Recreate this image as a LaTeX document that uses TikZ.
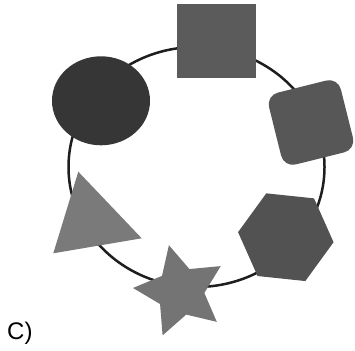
\documentclass[tikz,border=0pt]{standalone}
\usepackage{fontspec}
\setmainfont{Liberation Sans}
\usetikzlibrary{shapes.geometric}
\definecolor{ringc}{HTML}{1E1E1E}
\definecolor{circc}{HTML}{363636}
\definecolor{sqc}{HTML}{5B5B5B}
\definecolor{rsqc}{HTML}{575757}
\definecolor{hexc}{HTML}{525252}
\definecolor{tric}{HTML}{7A7A7A}
\definecolor{starc}{HTML}{747474}
\tikzset{
  ringline/.style={draw=ringc, line width=2.5pt},
  blob/.style={inner sep=0pt, outer sep=0pt, draw=none},
  lbl/.style={inner sep=0pt, font=\fontsize{24}{28}\selectfont}
}
\begin{document}
\begin{tikzpicture}[x=1pt,y=1pt]
\useasboundingbox (0,0) rectangle (355,350);
\fill[white] (0,0) rectangle (355,350);
% ring
\draw[ringline] (196.5,183) ellipse [x radius=128, y radius=120];
% shapes
\node[blob, ellipse, fill=circc, minimum width=98, minimum height=89] (circ) at (101,249.2) {};
\node[blob, rectangle, fill=sqc, minimum width=79, minimum height=74] (sq) at (216.3,308.8) {};
\node[blob, rectangle, fill=rsqc, rounded corners=12pt, minimum size=74, rotate=14] (rsq) at (311,227.5) {};
\coordinate (hexm) at (285.8,112.8);
\fill[hexc] (hexm) +(-6:48) -- +(54:48) -- +(114:48) -- +(174:48) -- +(234:48) -- +(294:48) -- cycle;
\coordinate (tri1) at (78.3,178.3);
\coordinate (tri2) at (53.3,96.7);
\coordinate (tri3) at (141.7,111.7);
\fill[tric] (tri1) -- (tri2) -- (tri3) -- cycle;
\coordinate (starm) at (180.4,58.7);
\fill[starc] (starm) +(104:47.5) -- +(140:24) -- +(176:47.5) -- +(212:24) -- +(248:47.5) -- +(284:24) -- +(320:47.5) -- +(356:24) -- +(32:47.5) -- +(68:24) -- cycle;
% label
\node[lbl, anchor=base west] (lab) at (7,10.7) {C)};
\end{tikzpicture}
\end{document}
